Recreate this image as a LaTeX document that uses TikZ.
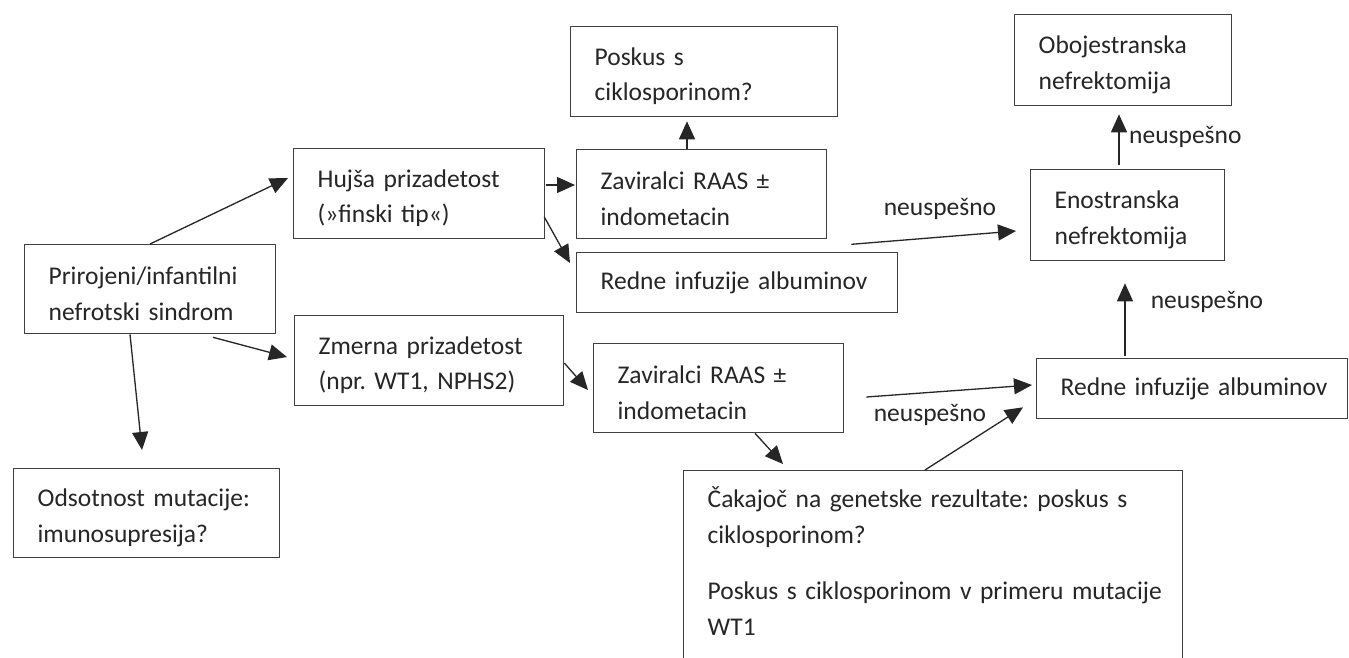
\documentclass[tikz,border=0pt]{standalone}
\usepackage{fontspec}
\setmainfont{Carlito}
\frenchspacing
\usetikzlibrary{arrows.meta}
\begin{document}
\frenchspacing
\begin{tikzpicture}[x=1pt,y=-1pt,
  box/.style={draw=black!75, line width=1.3pt, text=black!85, anchor=north west,
    inner xsep=24pt, inner ysep=0pt, align=left,
    font=\fontsize{25.5}{35.5}\selectfont\frenchspacing},
  two/.style={execute at begin node={\rule{0pt}{27pt}}},
  arr/.style={draw=black!85, line width=1.3pt, -{Triangle[length=18pt,width=16pt]}},
  lbl/.style={text=black!85, inner sep=0pt, font=\fontsize{25.5}{35.5}\selectfont}]
\clip (0,0) rectangle (1349,657);
\fill[white] (0,0) rectangle (1349,657);

% boxes
\node[box, two, text width=203pt, minimum height=89pt] (A) at (24,244) {Prirojeni/infantilni\\nefrotski sindrom};
\node[box, two, text width=203pt, minimum height=90pt] (B) at (293,148) {Hujša prizadetost\\(»finski tip«)};
\node[box, two, text width=221pt, minimum height=90pt] (C) at (294,315) {Zmerna prizadetost\\(npr. WT1, NPHS2)};
\node[box, two, text width=218pt, minimum height=89pt] (D) at (13,468) {\mbox{Odsotnost mutacije:}\\imunosupresija?};
\node[box, two, text width=219pt, minimum height=90pt] (E) at (570,26) {Poskus s\\ciklosporinom?};
\node[box, two, text width=202pt, minimum height=89pt] (F) at (576,149) {Zaviralci RAAS ±\\indometacin};
\node[box, text width=273pt, minimum height=60pt] (G) at (576,252) {\mbox{Redne infuzije albuminov}};
\node[box, two, text width=202pt, minimum height=89pt] (H) at (593,343) {Zaviralci RAAS ±\\indometacin};
\node[box, text width=451pt, inner ysep=16pt] (I) at (683,470)
  {\mbox{Čakajoč na genetske rezultate: poskus s}\\ciklosporinom?\\[21pt]\mbox{Poskus s ciklosporinom v primeru mutacije}\\WT1\rule[-40pt]{0pt}{40pt}};
\node[box, text width=263pt, minimum height=60pt] (J) at (1036,358) {\mbox{Redne infuzije albuminov}};
\node[box, two, text width=169pt, minimum height=91pt] (K) at (1014,14) {Obojestranska\\nefrektomija};
\node[box, two, text width=146pt, minimum height=91pt] (L) at (1030,169) {Enostranska\\nefrektomija};

% labels
\node[lbl] (n1) at (940,209) {neuspešno};
\node[lbl, anchor=west] (n2) at (1129,137) {neuspešno};
\node[lbl] (n3) at (1207,302) {neuspešno};
\node[lbl] (n4) at (930,415) {neuspešno};

% connectors
\draw[arr] ([xshift=126pt]A.north west) -- ([xshift=-5pt,yshift=-30pt]B.north west);
\draw[arr] ([xshift=189pt,yshift=-3pt]A.south west) -- ([xshift=-7pt,yshift=-42pt]C.north west);
\draw[arr] ([xshift=106pt]A.south west) -- ([xshift=129pt,yshift=18pt]D.north west);
\draw[arr] ([xshift=1pt,yshift=-37pt]B.north east) -- ([xshift=-1pt,yshift=-36pt]F.north west);
\draw[arr] ([xshift=-1pt,yshift=-69pt]B.north east) -- ([xshift=-6pt,yshift=-11pt]G.north west);
\draw[arr] ([xshift=111pt]F.north west) -- ([xshift=117pt,yshift=-4pt]E.south west);
\draw[arr] ([xshift=24pt,yshift=-5pt]F.south east) -- ([xshift=-14pt,yshift=-62pt]L.north west);
\draw[arr] ([xshift=89pt,yshift=4pt]L.north west) -- ([xshift=105pt,yshift=-8pt]K.south west);
\draw[arr] ([xshift=89pt,yshift=2pt]J.north west) -- ([xshift=95pt,yshift=-22pt]L.south west);
\draw[arr] ([xshift=22pt,yshift=-54pt]H.north east) -- ([xshift=-4pt,yshift=-27pt]J.north west);
\draw[arr] ([xshift=242pt]I.north west) -- ([xshift=-13pt,yshift=12pt]J.south west);
\draw[arr] ([yshift=-48pt]C.north east) -- ([xshift=-5pt,yshift=-47pt]H.north west);
\draw[arr] ([xshift=162pt]H.south west) -- ([xshift=100pt,yshift=6pt]I.north west);
\end{tikzpicture}
\end{document}
